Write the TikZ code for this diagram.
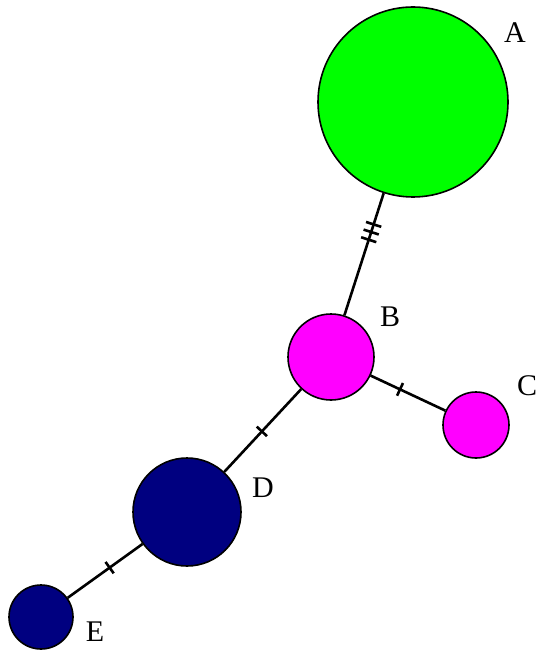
\documentclass[tikz,border=0pt]{standalone}
\usepackage{fontspec}
\setmainfont{Liberation Serif}
\usetikzlibrary{calc}
\definecolor{hgreen}{RGB}{0,255,0}
\definecolor{hmag}{RGB}{255,0,255}
\definecolor{hnavy}{RGB}{0,0,128}
\begin{document}
\begin{tikzpicture}[x=1pt,y=-1pt,
  hap/.style={circle,draw=black,line width=1.6pt,inner sep=0pt},
  edge/.style={line width=2.6pt,black},
  tick/.style={line width=2.6pt,black},
  lab/.style={font=\fontsize{30}{32}\selectfont,inner sep=0pt}]
\useasboundingbox (0,0) rectangle (536,652);
\node[hap,fill=hgreen,minimum size=190pt] (A) at (413,102) {};
\node[hap,fill=hmag,minimum size=86pt] (B) at (331,357) {};
\node[hap,fill=hmag,minimum size=66pt] (C) at (476,425) {};
\node[hap,fill=hnavy,minimum size=108pt] (D) at (187,512) {};
\node[hap,fill=hnavy,minimum size=64pt] (E) at (41,617) {};
\draw[edge] (A) -- (B);
\draw[edge] (B) -- (C);
\draw[edge] (B) -- (D);
\draw[edge] (D) -- (E);
\node[lab] (lA) at (515,33) {A};
\node[lab] (lB) at (390,317) {B};
\node[lab] (lC) at (527,386) {C};
\node[lab] (lD) at (263,488) {D};
\node[lab] (lE) at (95,632) {E};
\coordinate (t1) at ($(A)!0.48!(B)$);
\coordinate (t2) at ($(A)!0.51!(B)$);
\coordinate (t3) at ($(A)!0.54!(B)$);
\coordinate (t4) at ($(B)!0.476!(C)$);
\coordinate (t5) at ($(B)!0.48!(D)$);
\coordinate (t6) at ($(D)!0.53!(E)$);
\foreach \t in {t1,t2,t3}{
  \draw[tick] ($(\t)!8pt!90:(B)$) -- ($(\t)!8pt!-90:(B)$);
}
\draw[tick] ($(t4)!7pt!90:(C)$) -- ($(t4)!7pt!-90:(C)$);
\draw[tick] ($(t5)!7pt!90:(D)$) -- ($(t5)!7pt!-90:(D)$);
\draw[tick] ($(t6)!7pt!90:(E)$) -- ($(t6)!7pt!-90:(E)$);
\end{tikzpicture}
\end{document}
